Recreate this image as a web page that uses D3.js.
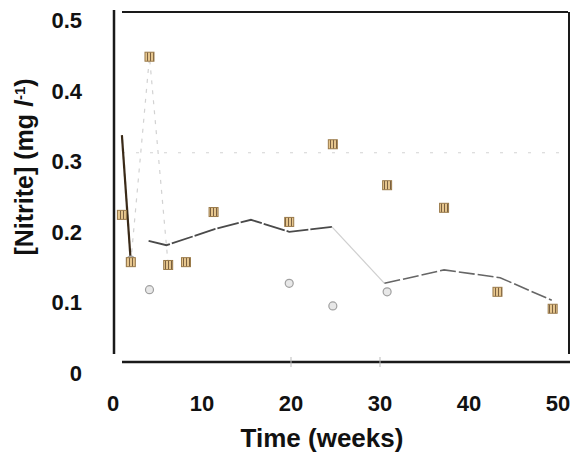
<!DOCTYPE html>
<html>
<head>
<meta charset="utf-8">
<script src="https://cdn.jsdelivr.net/npm/d3@7"></script>
<style>
  body { margin: 0; background: #fff; }
  svg { display: block; font-family: "Liberation Sans", Arial, sans-serif; }
</style>
</head>
<body>
<div id="chart"></div>
<script>
// tick labels
const xTicks = [0, 10, 20, 30, 40, 50];
const yTicks = [0, 0.1, 0.2, 0.3, 0.4, 0.5];

// individual samples (squares)
const squareWeeks  = [1.0, 2.0, 4.1, 6.2, 8.2, 11.3, 19.8, 24.7, 30.8, 37.2, 43.2, 49.4];
const squareValues = [0.224, 0.157, 0.448, 0.153, 0.157, 0.228, 0.214, 0.324, 0.266, 0.234, 0.115, 0.091];

// individual samples (circles)
const circleWeeks  = [2.0, 4.1, 19.8, 24.7, 30.8];
const circleValues = [0.160, 0.118, 0.127, 0.095, 0.115];

// mean line (null = break)
const meanWeeks  = [1.0, 2.0, 3.0, 4.0, 6.0, 11.5, 15.5, 19.8, 24.6, 30.5, 37.2, 43.5, 49.3];
const meanValues = [0.337, 0.157, null, 0.187, 0.181, 0.204, 0.217, 0.200, 0.207, 0.127, 0.146, 0.135, 0.103];

// faint reference level
const refLevel = 0.312;

const W = 574, H = 472;
const svg = d3.select("#chart").append("svg")
  .attr("width", W).attr("height", H);

const x = d3.scaleLinear().domain([0, 50]).range([113, 558]);
const y = d3.scaleLinear().domain([0, 0.5]).range([373, 20]);

// hatch pattern for squares
const defs = svg.append("defs");
const pat = defs.append("pattern")
  .attr("id", "hatch")
  .attr("patternUnits", "userSpaceOnUse")
  .attr("width", 3).attr("height", 3);
pat.append("rect").attr("width", 3).attr("height", 3).attr("fill", "#e6c68e");
pat.append("rect").attr("width", 1).attr("height", 3).attr("fill", "#7a6040");

// frame
const frame = svg.append("g").attr("stroke", "#1a1a1a").attr("fill", "none");
frame.append("line").attr("x1", 114).attr("x2", 114).attr("y1", 10).attr("y2", 354).attr("stroke-width", 2.5);
frame.append("line").attr("x1", 122).attr("x2", 570).attr("y1", 362).attr("y2", 362).attr("stroke-width", 2.5);
frame.append("line").attr("x1", 122).attr("x2", 568).attr("y1", 12).attr("y2", 12).attr("stroke-width", 2);
frame.append("line").attr("x1", 569).attr("x2", 569).attr("y1", 12).attr("y2", 354).attr("stroke-width", 2);

// small ticks on the bottom axis
svg.append("g").selectAll("line")
  .data([20, 30])
  .join("line")
  .attr("x1", d => x(d)).attr("x2", d => x(d))
  .attr("y1", 357).attr("y2", 367)
  .attr("stroke", "#bbb").attr("stroke-width", 1);

// faint dotted reference line
svg.append("line")
  .attr("x1", 122).attr("x2", 562)
  .attr("y1", y(refLevel)).attr("y2", y(refLevel))
  .attr("stroke", "#d4d4d4").attr("stroke-width", 1.2)
  .attr("stroke-dasharray", "3,11");

// faint dashed spike through the early samples
const sq = squareWeeks.map((w, i) => ({ w, v: squareValues[i] }));
svg.append("path")
  .datum(sq.slice(1, 4))
  .attr("fill", "none")
  .attr("stroke", "#d2d2d2")
  .attr("stroke-width", 1.2)
  .attr("stroke-dasharray", "4,6")
  .attr("d", d3.line().x(d => x(d.w)).y(d => y(d.v)));

// mean line
const mean = meanWeeks.map((w, i) => ({ w, v: meanValues[i] }));
const line = d3.line().defined(d => d.v !== null).x(d => x(d.w)).y(d => y(d.v));

svg.append("path")
  .datum(mean.slice(0, 2))
  .attr("fill", "none")
  .attr("stroke", "#3a2a18")
  .attr("stroke-width", 2.2)
  .attr("d", line);

svg.append("path")
  .datum(mean.slice(3, 9))
  .attr("fill", "none")
  .attr("stroke", "#4a4a4a")
  .attr("stroke-width", 1.8)
  .attr("stroke-dasharray", "22,2")
  .attr("d", line);

svg.append("path")
  .datum(mean.slice(8, 10))
  .attr("fill", "none")
  .attr("stroke", "#cfcfcf")
  .attr("stroke-width", 1.2)
  .attr("d", line);

svg.append("path")
  .datum(mean.slice(9))
  .attr("fill", "none")
  .attr("stroke", "#666")
  .attr("stroke-width", 1.6)
  .attr("stroke-dasharray", "16,3")
  .attr("d", line);

// circles
const ci = circleWeeks.map((w, i) => ({ w, v: circleValues[i] }));
svg.append("g").selectAll("circle")
  .data(ci)
  .join("circle")
  .attr("cx", d => x(d.w))
  .attr("cy", d => y(d.v))
  .attr("r", 4)
  .attr("fill", "#e8e8e8")
  .attr("stroke", "#a0a0a0")
  .attr("stroke-width", 1.2);

// squares
const s = 9;
svg.append("g").selectAll("rect")
  .data(sq)
  .join("rect")
  .attr("x", d => x(d.w) - s / 2)
  .attr("y", d => y(d.v) - s / 2)
  .attr("width", s)
  .attr("height", s)
  .attr("fill", "url(#hatch)")
  .attr("stroke", "#9a7a4a")
  .attr("stroke-width", 1);

// y tick labels
svg.append("g").selectAll("text")
  .data(yTicks)
  .join("text")
  .attr("x", 82)
  .attr("y", d => y(d))
  .attr("dy", "0.36em")
  .attr("text-anchor", "end")
  .style("font-size", "22px")
  .style("font-weight", "bold")
  .style("fill", "#111")
  .text(d => d === 0 ? "0" : d.toFixed(1));

// x tick labels
svg.append("g").selectAll("text")
  .data(xTicks)
  .join("text")
  .attr("x", d => x(d))
  .attr("y", 403)
  .attr("dy", "0.36em")
  .attr("text-anchor", "middle")
  .style("font-size", "22px")
  .style("font-weight", "bold")
  .style("fill", "#111")
  .text(d => d);

// axis titles
svg.append("text")
  .attr("x", 322).attr("y", 438)
  .attr("dy", "0.36em")
  .attr("text-anchor", "middle")
  .style("font-size", "26px")
  .style("font-weight", "bold")
  .style("fill", "#111")
  .text("Time (weeks)");

const yt = svg.append("text")
  .attr("transform", "translate(24,167) rotate(-90)")
  .attr("dy", "0.36em")
  .attr("text-anchor", "middle")
  .style("font-size", "25px")
  .style("font-weight", "bold")
  .style("fill", "#111");
yt.append("tspan").text("[Nitrite] (mg ");
yt.append("tspan").style("font-style", "italic").text("l");
yt.append("tspan").attr("baseline-shift", "super").style("font-size", "15px").text("-1");
yt.append("tspan").text(")");
</script>
</body>
</html>
